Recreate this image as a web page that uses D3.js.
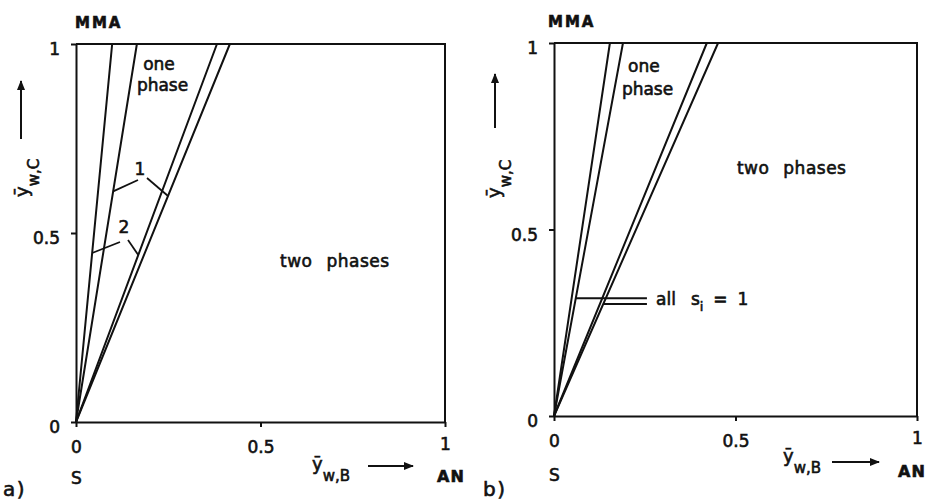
<!DOCTYPE html>
<html>
<head>
<meta charset="utf-8">
<script src="https://cdn.jsdelivr.net/npm/d3@7"></script>
<style>
  body { margin: 0; background: #fff; }
  svg text { font-family: "DejaVu Sans", sans-serif; fill: #111; stroke: #111; stroke-width: 0.6px; }
</style>
</head>
<body>
<svg id="chart" width="927" height="500"></svg>
<script>
// Phase boundaries in the S / AN / MMA composition diagram.
// Every boundary is a straight line from S (0,0) to the MMA edge (ȳw,C = 1);
// the value stored is ȳw,B where the boundary meets ȳw,C = 1.
const boundaryIdsA = ["2-left", "1-left", "2-right", "1-right"];
const boundaryTopA = [0.098, 0.165, 0.382, 0.417];

const boundaryIdsB = ["left", "left all si=1", "right", "right all si=1"];
const boundaryTopB = [0.154, 0.190, 0.421, 0.452];

const tickValues = [0, 0.5, 1];
const tickLabels = ["0", "0.5", "1"];

const svg = d3.select("#chart");
const INK = "#111";

const defs = svg.append("defs");
defs.append("marker")
  .attr("id", "arrow")
  .attr("viewBox", "0 0 10 8")
  .attr("refX", 9).attr("refY", 4)
  .attr("markerWidth", 11).attr("markerHeight", 8)
  .attr("markerUnits", "userSpaceOnUse")
  .attr("orient", "auto")
  .append("path").attr("d", "M0,0 L10,4 L0,8 Z").attr("fill", INK);

function drawPanel(cfg) {
  const x = d3.scaleLinear().domain([0, 1]).range([cfg.left, cfg.right]);
  const y = d3.scaleLinear().domain([0, 1]).range([cfg.bottom, cfg.top]);
  const g = svg.append("g");

  // frame: top and right edges
  g.append("path")
    .attr("d", `M${x(0)},${y(1)} H${x(1)} V${y(0)}`)
    .attr("fill", "none").attr("stroke", INK).attr("stroke-width", 2);

  const xAxis = d3.axisBottom(x).tickValues(tickValues)
    .tickFormat((d, i) => tickLabels[i]).tickSize(5).tickPadding(14).tickSizeOuter(0);
  const yAxis = d3.axisLeft(y).tickValues(tickValues)
    .tickFormat((d, i) => tickLabels[i]).tickSize(5).tickPadding(11).tickSizeOuter(0);

  const gx = g.append("g").attr("transform", `translate(0,${y(0)})`).call(xAxis);
  const gy = g.append("g").attr("transform", `translate(${x(0)},0)`).call(yAxis);
  [gx, gy].forEach(a => {
    a.select(".domain").attr("stroke", INK).attr("stroke-width", 2);
    a.selectAll(".tick line").attr("stroke", INK).attr("stroke-width", 2);
    a.selectAll(".tick text").attr("font-size", 17)
      .attr("font-family", "DejaVu Sans, sans-serif").attr("fill", INK);
  });
  gy.selectAll(".tick text").attr("dy", "0.62em");
  gx.selectAll(".tick text").filter(d => d === 1).attr("y", 16);

  // boundary lines
  const line = d3.line().x(d => x(d[0])).y(d => y(d[1]));
  g.selectAll("path.boundary")
    .data(cfg.tops)
    .join("path")
    .attr("class", "boundary")
    .attr("d", t => line([[0, 0], [t, 1]]))
    .attr("fill", "none").attr("stroke", INK).attr("stroke-width", 2)
    .attr("stroke-linecap", "round");

  const txt = (tx, ty, s, size, extra) => {
    const t = g.append("text").attr("x", tx).attr("y", ty)
      .attr("font-size", size || 17).text(s);
    if (extra) extra(t);
    return t;
  };

  // corner labels
  txt(cfg.mmaX, cfg.mmaY, "MMA", 15, t => t.attr("font-weight", "bold").attr("letter-spacing", 2));
  txt(x(0) - 5, cfg.sY, "S", 17);
  txt(cfg.anX, cfg.anY, "AN", 16, t => t.attr("font-weight", "bold").attr("letter-spacing", 1));
  txt(cfg.tagX, cfg.tagY, cfg.tag, 20, t => t.attr("letter-spacing", 1.5));

  // x-axis title ȳw,B with arrow
  const xt = txt(cfg.xtX, cfg.xtY, "ȳ", 18);
  xt.append("tspan").attr("dy", 11).attr("font-size", 15).text("w,B");
  g.append("line")
    .attr("x1", cfg.xaX1).attr("x2", cfg.xaX2)
    .attr("y1", cfg.xaY).attr("y2", cfg.xaY)
    .attr("stroke", INK).attr("stroke-width", 2).attr("marker-end", "url(#arrow)");

  // y-axis title ȳw,C with arrow
  const yt = g.append("text")
    .attr("transform", `translate(${cfg.ytX},${cfg.ytY}) rotate(-90)`)
    .attr("font-size", 18).text("ȳ");
  yt.append("tspan").attr("dy", 11).attr("font-size", 15).text("w,C");
  g.append("line")
    .attr("x1", cfg.yaX).attr("x2", cfg.yaX)
    .attr("y1", cfg.yaY1).attr("y2", cfg.yaY2)
    .attr("stroke", INK).attr("stroke-width", 2).attr("marker-end", "url(#arrow)");

  return { g, x, y, txt };
}

// ---- panel a ----
const A = drawPanel({
  left: 76, right: 445, top: 44, bottom: 422, tops: boundaryTopA,
  mmaX: 75, mmaY: 28, sY: 484, anX: 437, anY: 482, tag: "a)", tagX: 3, tagY: 496,
  xtX: 312, xtY: 470, xaX1: 368, xaX2: 413, xaY: 466,
  ytX: 28, ytY: 197, yaX: 21, yaY1: 139, yaY2: 81
});
A.txt(A.x(0.182), A.y(0.931), "one", 17);
A.txt(A.x(0.165), A.y(0.876), "phase", 17);
A.txt(A.x(0.553), A.y(0.41), "two phases", 17, t => t.attr("word-spacing", 8).attr("letter-spacing", 0.5));

// curve labels "1" and "2" with leader lines to their boundaries
const onLine = (top, yy) => [top * yy, yy];
function leaderA(label, lx, ly, targets) {
  A.txt(A.x(lx), A.y(ly), label, 17, t => t.attr("text-anchor", "middle"));
  targets.forEach(([sx, sy, top, yy]) => {
    const p = onLine(top, yy);
    A.g.append("line")
      .attr("x1", sx).attr("y1", sy)
      .attr("x2", A.x(p[0])).attr("y2", A.y(p[1]))
      .attr("stroke", INK).attr("stroke-width", 1.8);
  });
}
leaderA("1", 0.173, 0.653, [[138, 180, boundaryTopA[1], 0.61], [147, 178, boundaryTopA[3], 0.598]]);
leaderA("2", 0.13, 0.50, [[120, 242, boundaryTopA[0], 0.447], [128, 240, boundaryTopA[2], 0.442]]);

// ---- panel b ----
const B = drawPanel({
  left: 554, right: 917, top: 43, bottom: 416, tops: boundaryTopB,
  mmaX: 548, mmaY: 27, sY: 481, anX: 898, anY: 477, tag: "b)", tagX: 483, tagY: 496,
  xtX: 783, xtY: 462, xaX1: 832, xaX2: 879, xaY: 462,
  ytX: 500, ytY: 198, yaX: 495, yaY1: 128, yaY2: 74
});
B.txt(B.x(0.204), B.y(0.922), "one", 17);
B.txt(B.x(0.187), B.y(0.861), "phase", 17);
B.txt(B.x(0.504), B.y(0.649), "two phases", 17, t => t.attr("word-spacing", 8).attr("letter-spacing", 0.5));

const sLabel = B.txt(B.x(0.281), B.y(0.298), "all", 17);
sLabel.append("tspan").attr("dx", 15).text("s");
sLabel.append("tspan").attr("dy", 6).attr("font-size", 13).text("i");
sLabel.append("tspan").attr("dy", -6).attr("dx", 10).text("=");
sLabel.append("tspan").attr("dx", 10).text("1");

[[boundaryTopB[1], 0.316], [boundaryTopB[3], 0.30]].forEach(([top, yy]) => {
  const p = onLine(top, yy);
  B.g.append("line")
    .attr("x1", B.x(p[0])).attr("y1", B.y(yy))
    .attr("x2", B.x(0.256)).attr("y2", B.y(yy))
    .attr("stroke", INK).attr("stroke-width", 2);
});
</script>
</body>
</html>
